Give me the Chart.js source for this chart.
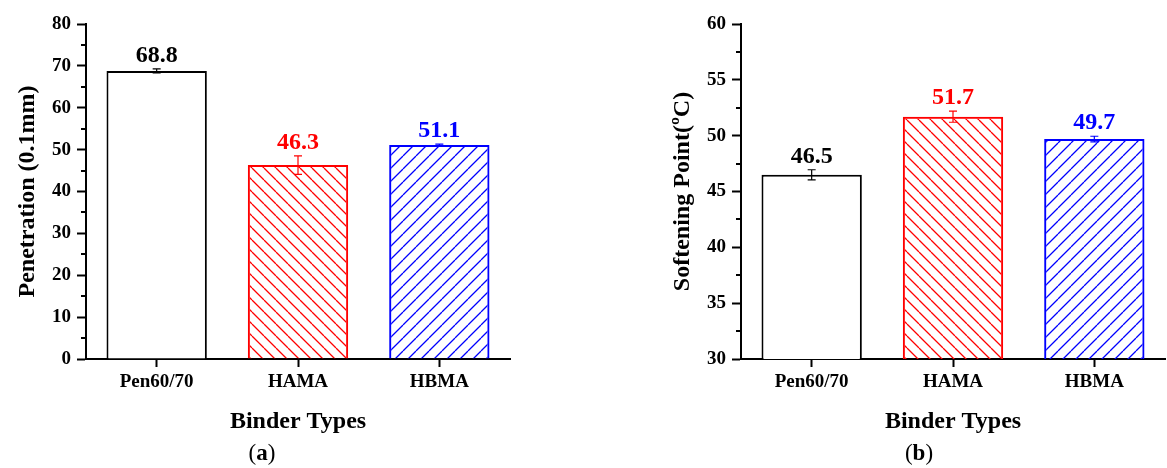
<!DOCTYPE html>
<html lang="en">
<head>
    <meta charset="UTF-8">
    <title>Penetration and Softening Point of Binders</title>
    <style>
        body {
            margin: 0;
            background-color: #fff;
            font-family: "Liberation Serif", "Times New Roman", serif;
        }
        .page {
            position: relative;
            width: 1167px;
            height: 468px;
        }
        .panel {
            position: absolute;
            top: 0;
            width: 512px;
            height: 468px;
        }
        .caption {
            position: absolute;
            top: 440px;
            font-size: 23px;
            transform: translateX(-50%);
        }
    </style>
    <script src="https://cdn.jsdelivr.net/npm/chart.js"></script>
</head>
<body>
    <div class="page">
        <div class="panel" style="left: 0px;"><canvas id="penChart"></canvas></div>
        <div class="panel" style="left: 655px;"><canvas id="softChart"></canvas></div>
        <div class="caption" style="left: 262px;">(<b>a</b>)</div>
        <div class="caption" style="left: 919px;">(<b>b</b>)</div>
    </div>

    <script>
        const binderTypes = ['Pen60/70', 'HAMA', 'HBMA'];
        const penetration = [68.8, 46.3, 51.1];
        const penetrationErr = [0.5, 2.2, 0.2];
        const softening = [46.5, 51.7, 49.7];
        const softeningErr = [0.45, 0.5, 0.25];
        const barColors = ['#000000', '#ff0000', '#0000ff'];

        // diagonal hatch fill for the modified binders
        function hatch(color, dir, size) {
            const c = document.createElement('canvas');
            c.width = size;
            c.height = size;
            const g = c.getContext('2d');
            g.strokeStyle = color;
            g.lineWidth = 1.3;
            g.beginPath();
            for (let k = -1; k <= 1; k++) {
                if (dir === 'back') {
                    g.moveTo(k * size, 0);
                    g.lineTo(k * size + size, size);
                } else {
                    g.moveTo(k * size, size);
                    g.lineTo(k * size + size, 0);
                }
            }
            g.stroke();
            return g.createPattern(c, 'repeat');
        }

        const barFills = ['#ffffff', hatch('#ff0000', 'back', 12), hatch('#0000ff', 'fwd', 13)];

        const serif = '"Liberation Serif", "Times New Roman", serif';

        const barExtras = {
            id: 'barExtras',
            afterDatasetsDraw(chart, args, opts) {
                const ctx = chart.ctx;
                const y = chart.scales.y;
                const meta = chart.getDatasetMeta(0);
                const values = chart.data.datasets[0].data;
                ctx.save();
                meta.data.forEach((bar, i) => {
                    const top = y.getPixelForValue(values[i] + opts.errors[i]);
                    const bottom = y.getPixelForValue(values[i] - opts.errors[i]);
                    ctx.strokeStyle = barColors[i];
                    ctx.lineWidth = 1.2;
                    ctx.beginPath();
                    ctx.moveTo(bar.x, top);
                    ctx.lineTo(bar.x, bottom);
                    ctx.moveTo(bar.x - 4, top);
                    ctx.lineTo(bar.x + 4, top);
                    ctx.moveTo(bar.x - 4, bottom);
                    ctx.lineTo(bar.x + 4, bottom);
                    ctx.stroke();

                    ctx.fillStyle = barColors[i];
                    ctx.font = 'bold 24px ' + serif;
                    ctx.textAlign = 'center';
                    ctx.textBaseline = 'alphabetic';
                    ctx.fillText(values[i].toFixed(1), bar.x, top - 7);
                });
                ctx.restore();
            },
            afterDraw(chart, args, opts) {
                // minor ticks on the value axis
                const ctx = chart.ctx;
                const y = chart.scales.y;
                const x0 = chart.chartArea.left;
                ctx.save();
                ctx.strokeStyle = '#000';
                ctx.lineWidth = 2;
                ctx.beginPath();
                for (let v = y.min + opts.minor; v < y.max; v += opts.minor * 2) {
                    const py = Math.round(y.getPixelForValue(v));
                    ctx.moveTo(x0 - 5, py);
                    ctx.lineTo(x0, py);
                }
                ctx.stroke();
                ctx.restore();
            }
        };

        function makeChart(id, values, errors, yMin, yMax, step, yTitle) {
            return new Chart(document.getElementById(id), {
                type: 'bar',
                data: {
                    labels: binderTypes,
                    datasets: [{
                        data: values,
                        backgroundColor: barFills,
                        borderColor: barColors,
                        borderWidth: 2,
                        borderSkipped: 'start',
                        barPercentage: 0.71,
                        categoryPercentage: 1
                    }]
                },
                options: {
                    responsive: false,
                    animation: false,
                    devicePixelRatio: 1,
                    layout: { padding: { top: 24, right: 2, left: 0, bottom: 0 } },
                    plugins: {
                        legend: { display: false },
                        tooltip: { enabled: false },
                        barExtras: { errors: errors, minor: step / 2 }
                    },
                    scales: {
                        x: {
                            grid: {
                                offset: false,
                                drawOnChartArea: false,
                                tickLength: 8,
                                tickColor: '#000',
                                tickWidth: 2
                            },
                            border: { color: '#000', width: 2 },
                            ticks: {
                                color: '#000',
                                padding: 4,
                                font: { family: serif, size: 19, weight: 'bold' }
                            },
                            title: {
                                display: true,
                                text: 'Binder Types',
                                color: '#000',
                                padding: { top: 0, bottom: 32 },
                                font: { family: serif, size: 24, weight: 'bold' }
                            },
                            afterFit(scale) { scale.height = 109; }
                        },
                        y: {
                            min: yMin,
                            max: yMax,
                            grid: {
                                drawOnChartArea: false,
                                tickLength: 9,
                                tickColor: '#000',
                                tickWidth: 2
                            },
                            border: { color: '#000', width: 2 },
                            ticks: {
                                stepSize: step,
                                color: '#000',
                                padding: 6,
                                font: { family: serif, size: 19, weight: 'bold' }
                            },
                            title: {
                                display: true,
                                text: yTitle,
                                color: '#000',
                                padding: { top: 13, bottom: 0 },
                                font: { family: serif, size: 24, weight: 'bold' }
                            },
                            afterFit(scale) { scale.width = 86; }
                        }
                    }
                },
                plugins: [barExtras]
            });
        }

        document.getElementById('penChart').width = 512;
        document.getElementById('penChart').height = 468;
        document.getElementById('softChart').width = 512;
        document.getElementById('softChart').height = 468;

        makeChart('penChart', penetration, penetrationErr, 0, 80, 10, 'Penetration (0.1mm)');
        makeChart('softChart', softening, softeningErr, 30, 60, 5, 'Softening Point(ºC)');
    </script>
</body>
</html>
